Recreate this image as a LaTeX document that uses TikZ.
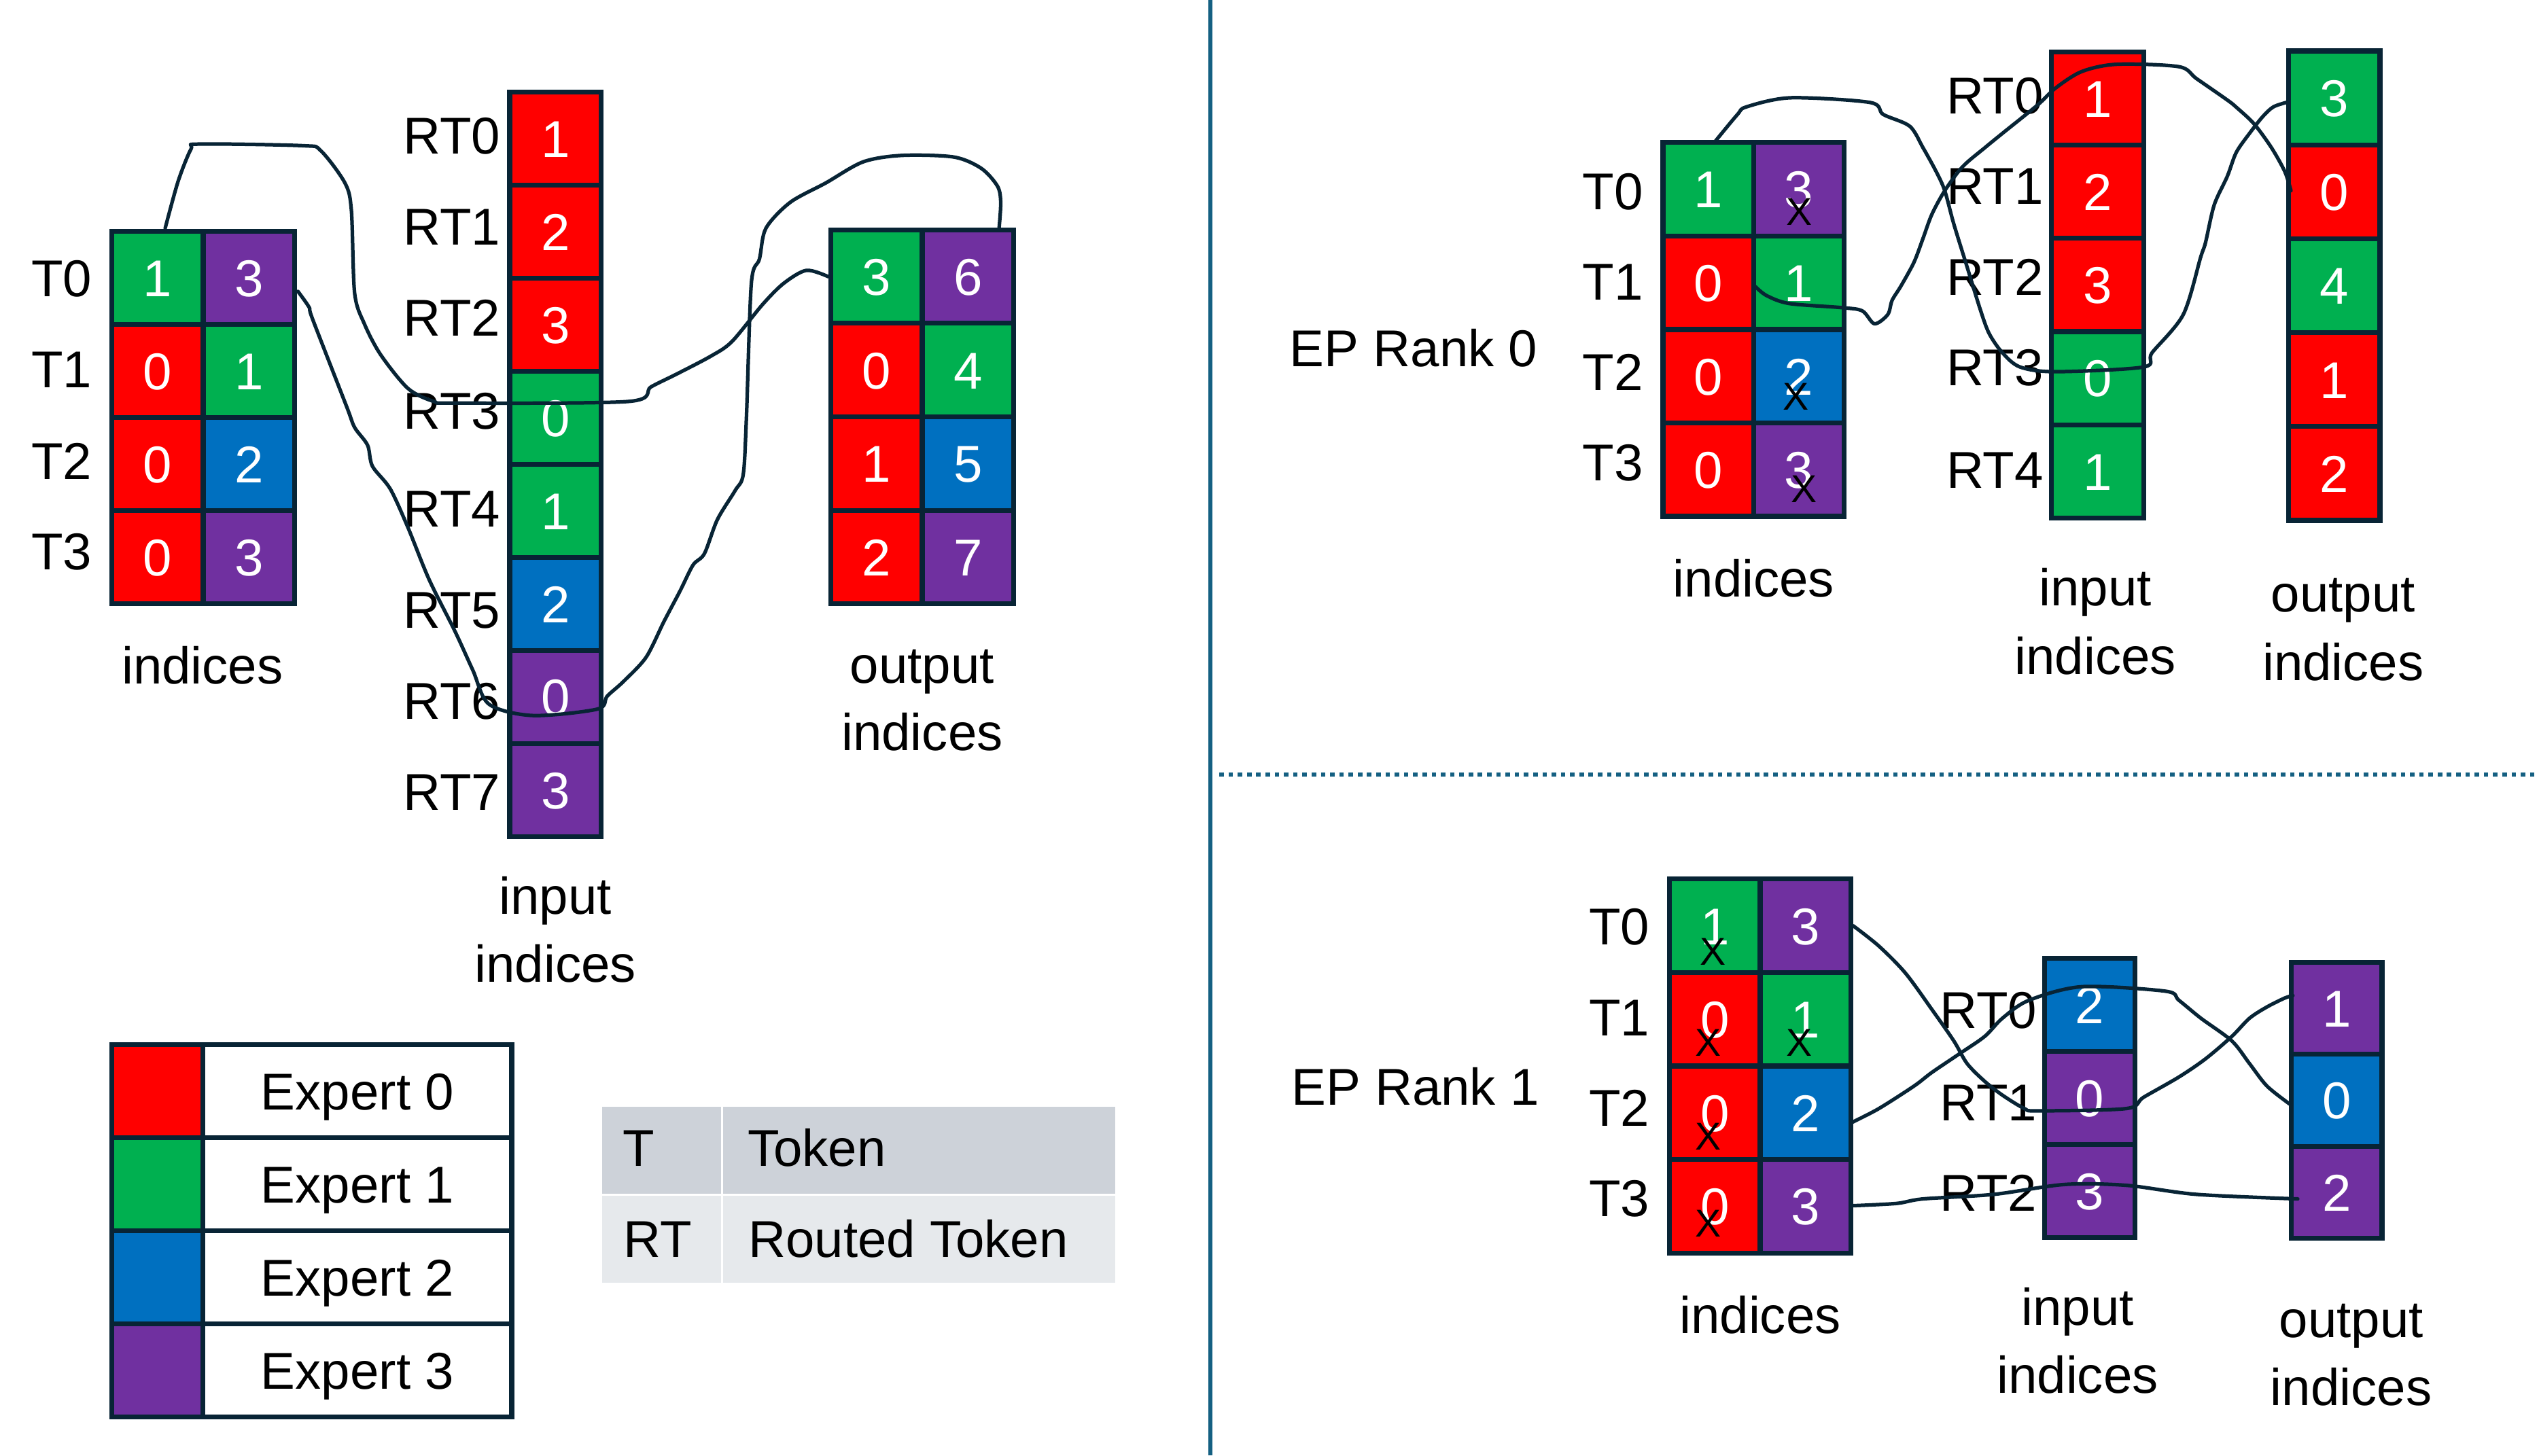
\documentclass[tikz,border=0pt]{standalone}
\usepackage{fontspec}
\setmainfont{Liberation Sans}
\definecolor{cR}{HTML}{FF0000}
\definecolor{cG}{HTML}{00B050}
\definecolor{cB}{HTML}{0070C0}
\definecolor{cP}{HTML}{7030A0}
\definecolor{bord}{HTML}{082435}
\definecolor{divc}{HTML}{156082}
\definecolor{tgA}{HTML}{CDD2D9}
\definecolor{tgB}{HTML}{E6E9EC}
\newcommand{\fsbig}{\fontsize{32}{38}\selectfont}
\newcommand{\fsx}{\fontsize{24}{28}\selectfont}
\begin{document}
\begin{tikzpicture}[x=1pt,y=-1pt,
  cell/.style={draw=bord, line width=3pt, inner sep=0pt, text=white, font=\fsbig, text height=23pt, text depth=0pt},
  sz/.style 2 args={minimum width=#1pt, minimum height=#2pt},
  eR/.style={fill=cR}, eG/.style={fill=cG}, eB/.style={fill=cB}, eP/.style={fill=cP},
  txt/.style={inner sep=0pt, font=\fsbig, text height=23pt, text depth=0pt},
  xmark/.style={inner sep=0pt, font=\fsx, text=black},
  wire/.style={draw=bord, line width=2.2pt, line cap=round, line join=round},
  tcell/.style={draw=white, line width=1.5pt, inner sep=0pt}
]
\useasboundingbox (0,0) rectangle (1568,899);

% ---------------- dividers ----------------
\coordinate (vtop) at (747.5,0);
\coordinate (vbot) at (747.5,899);
\coordinate (hl) at (753,478.4);
\coordinate (hr) at (1568,478.4);
\draw[divc, line width=2.8pt] (vtop) -- (vbot);
\draw[divc, line width=2.8pt, dash pattern=on 2.8pt off 2.9pt] (hl) -- (hr);

% ---------------- left: indices ----------------
\begin{scope}[every node/.append style={sz={56.5}{57.5}}]
\node[cell,eG] (li00) at (97.25,171.75) {1};
\node[cell,eP] (li01) at (153.75,171.75) {3};
\node[cell,eR] (li10) at (97.25,229.25) {0};
\node[cell,eG] (li11) at (153.75,229.25) {1};
\node[cell,eR] (li20) at (97.25,286.75) {0};
\node[cell,eB] (li21) at (153.75,286.75) {2};
\node[cell,eR] (li30) at (97.25,344.25) {0};
\node[cell,eP] (li31) at (153.75,344.25) {3};
\end{scope}
\node[txt] (lt0) at (38,171.8) {T0};
\node[txt] (lt1) at (38,228) {T1};
\node[txt] (lt2) at (38,284.5) {T2};
\node[txt] (lt3) at (38,340.5) {T3};
\node[txt] (lind) at (125,411) {indices};

% ---------------- left: input indices ----------------
\begin{scope}[every node/.append style={sz={56.5}{57.5}}]
\node[cell,eR] (ln0) at (343,85.75) {1};
\node[cell,eR] (ln1) at (343,143.25) {2};
\node[cell,eR] (ln2) at (343,200.75) {3};
\node[cell,eG] (ln3) at (343,258.25) {0};
\node[cell,eG] (ln4) at (343,315.75) {1};
\node[cell,eB] (ln5) at (343,373.25) {2};
\node[cell,eP] (ln6) at (343,430.75) {0};
\node[cell,eP] (ln7) at (343,488.25) {3};
\end{scope}
\node[txt] (lr0) at (279,83.5) {RT0};
\node[txt] (lr1) at (279,139.7) {RT1};
\node[txt] (lr2) at (279,196) {RT2};
\node[txt] (lr3) at (279,253.4) {RT3};
\node[txt] (lr4) at (279,314) {RT4};
\node[txt] (lr5) at (279,376.6) {RT5};
\node[txt] (lr6) at (279,432.8) {RT6};
\node[txt] (lr7) at (279,489) {RT7};
\node[txt] (linp1) at (343,553) {input};
\node[txt] (linp2) at (343,595) {indices};

% ---------------- left: output indices ----------------
\begin{scope}[every node/.append style={sz={56.5}{57.75}}]
\node[cell,eG] (lo00) at (541.25,170.9) {3};
\node[cell,eP] (lo01) at (597.75,170.9) {6};
\node[cell,eR] (lo10) at (541.25,228.6) {0};
\node[cell,eG] (lo11) at (597.75,228.6) {4};
\node[cell,eR] (lo20) at (541.25,286.4) {1};
\node[cell,eB] (lo21) at (597.75,286.4) {5};
\node[cell,eR] (lo30) at (541.25,344.1) {2};
\node[cell,eP] (lo31) at (597.75,344.1) {7};
\end{scope}
\node[txt] (lout1) at (569.5,410.5) {output};
\node[txt] (lout2) at (569.5,452) {indices};

% left wires
\draw[wire] plot[smooth, tension=0.5] coordinates {(102,141) (110,112) (118,92) (123,89) (187,90) (198,93) (213,113) (217,130) (219,181) (225,200) (235,219) (252,240) (268,248) (281,249) (388,248) (402,239) (418,231) (439,220) (452,211) (471,188) (484,175) (498,167) (lo00.west)};
\draw[wire] plot[smooth, tension=0.5] coordinates {(184,180) (191,190) (193,197) (214,251) (219,264) (227,275) (230,288) (241,302) (252,326) (265,358) (281,390) (292,414) (302,435) (329,442) (369,438) (375,430) (385,421) (399,406) (410,384) (420,365) (428,349) (435,342) (443,321) (454,303) (459,293) (461,257) (464,175) (469,160) (473,141) (488,125) (510,113) (533,100) (557,96) (589,97) (606,104) (616,115) (618,125) (617,141)};

% ---------------- legend ----------------
\begin{scope}[every node/.append style={sz={56.4}{57.5}}]
\node[cell,eR] (k0) at (97.2,674) {};
\node[cell,eG] (k1) at (97.2,731.5) {};
\node[cell,eB] (k2) at (97.2,789) {};
\node[cell,eP] (k3) at (97.2,846.5) {};
\end{scope}
\begin{scope}[every node/.append style={sz={190.6}{57.5}}]
\node[cell,fill=white,text=black] (k0t) at (220.7,674) {Expert 0};
\node[cell,fill=white,text=black] (k1t) at (220.7,731.5) {Expert 1};
\node[cell,fill=white,text=black] (k2t) at (220.7,789) {Expert 2};
\node[cell,fill=white,text=black] (k3t) at (220.7,846.5) {Expert 3};
\end{scope}

% ---------------- token table ----------------
\node[tcell, fill=tgA, sz={75}{55}] (t00) at (408.5,710.5) {};
\node[tcell, fill=tgA, sz={243.5}{55}] (t01) at (567.75,710.5) {};
\node[tcell, fill=tgB, sz={75}{55}] (t10) at (408.5,765.5) {};
\node[tcell, fill=tgB, sz={243.5}{55}] (t11) at (567.75,765.5) {};
\node[txt, anchor=west] (tT) at (384.5,709) {T};
\node[txt, anchor=west] (tTok) at (461.5,709) {Token};
\node[txt, anchor=west] (tRT) at (385,765) {RT};
\node[txt, anchor=west] (tRTok) at (462,765) {Routed Token};

% ---------------- EP Rank 0 ----------------
\node[txt] (ep0) at (873,215) {EP Rank 0};
\begin{scope}[every node/.append style={sz={56}{57.75}}]
\node[cell,eG] (ai00) at (1055,116.9) {1};
\node[cell,eP] (ai01) at (1111,116.9) {3};
\node[cell,eR] (ai10) at (1055,174.6) {0};
\node[cell,eG] (ai11) at (1111,174.6) {1};
\node[cell,eR] (ai20) at (1055,232.4) {0};
\node[cell,eB] (ai21) at (1111,232.4) {2};
\node[cell,eR] (ai30) at (1055,290.1) {0};
\node[cell,eP] (ai31) at (1111,290.1) {3};
\end{scope}
\node[xmark] (ax0) at (1111,131) {X};
\node[xmark] (ax2) at (1109,245) {X};
\node[xmark] (ax3) at (1114,302) {X};
\node[txt] (at0) at (996,117.8) {T0};
\node[txt] (at1) at (996,173.7) {T1};
\node[txt] (at2) at (996,229.6) {T2};
\node[txt] (at3) at (996,285.6) {T3};
\node[txt] (aind) at (1083,357) {indices};

\begin{scope}[every node/.append style={sz={57}{57.6}}]
\node[cell,eR] (an0) at (1295.5,60.8) {1};
\node[cell,eR] (an1) at (1295.5,118.4) {2};
\node[cell,eR] (an2) at (1295.5,176) {3};
\node[cell,eG] (an3) at (1295.5,233.6) {0};
\node[cell,eG] (an4) at (1295.5,291.2) {1};
\end{scope}
\node[txt] (ar0) at (1232,58.9) {RT0};
\node[txt] (ar1) at (1232,114.8) {RT1};
\node[txt] (ar2) at (1232,170.8) {RT2};
\node[txt] (ar3) at (1232,226.7) {RT3};
\node[txt] (ar4) at (1232,290) {RT4};
\node[txt] (ainp1) at (1294,362.5) {input};
\node[txt] (ainp2) at (1294,405) {indices};

\begin{scope}[every node/.append style={sz={56.5}{58}}]
\node[cell,eG] (ao0) at (1441.5,60.5) {3};
\node[cell,eR] (ao1) at (1441.5,118.5) {0};
\node[cell,eG] (ao2) at (1441.5,176.5) {4};
\node[cell,eR] (ao3) at (1441.5,234.5) {1};
\node[cell,eR] (ao4) at (1441.5,292.5) {2};
\end{scope}
\node[txt] (aout1) at (1447,366.5) {output};
\node[txt] (aout2) at (1447,409) {indices};

\draw[wire] plot[smooth, tension=0.5] coordinates {(1059.5,87) (1073,70.7) (1078.6,66) (1105.8,60.4) (1154.9,63.3) (1163,70.7) (1179.4,78) (1187.6,91.3) (1195.7,106) (1201,117.8) (1206.6,138.4) (1214.8,164.9) (1223,191.4) (1228.4,206) (1236.6,217.9) (1247.5,226.7) (1269.3,229.6) (1323.8,226.7) (1329,217.9) (1348.3,194.3) (1359,159) (1362,150) (1367.4,126.6) (1375.5,108.9) (1381,94.2) (1389.2,82.4) (1397.4,72) (1404,66) (1413,63)};
\draw[wire] plot[smooth, tension=0.5] coordinates {(1084,177) (1091,182.6) (1105,187.5) (1137,190) (1150,192) (1157.6,200) (1165.8,194.3) (1168.5,185.5) (1174,176.6) (1182,162) (1187.6,147.2) (1193,132.5) (1201,117.8) (1212,103) (1225.7,91.3) (1236.6,82.4) (1258.4,64.8) (1269.3,54.5) (1285.6,44.2) (1307.4,39.7) (1345.6,41.2) (1356.5,48.6) (1375.5,61.8) (1381,66.2) (1392,76.5) (1402.8,91.3) (1411,106) (1414.8,117.8)};

% ---------------- EP Rank 1 ----------------
\node[txt] (ep1) at (874,671) {EP Rank 1};
\begin{scope}[every node/.append style={sz={56}{57.75}}]
\node[cell,eG] (bi00) at (1059,571.9) {1};
\node[cell,eP] (bi01) at (1115,571.9) {3};
\node[cell,eR] (bi10) at (1059,629.6) {0};
\node[cell,eG] (bi11) at (1115,629.6) {1};
\node[cell,eR] (bi20) at (1059,687.4) {0};
\node[cell,eB] (bi21) at (1115,687.4) {2};
\node[cell,eR] (bi30) at (1059,745.1) {0};
\node[cell,eP] (bi31) at (1115,745.1) {3};
\end{scope}
\node[xmark] (bx0) at (1058,588) {X};
\node[xmark] (bx1) at (1055,644) {X};
\node[xmark] (bx1b) at (1111,644) {X};
\node[xmark] (bx2) at (1055,702) {X};
\node[xmark] (bx3) at (1055,756) {X};
\node[txt] (bt0) at (1000,571.9) {T0};
\node[txt] (bt1) at (1000,628.2) {T1};
\node[txt] (bt2) at (1000,684.3) {T2};
\node[txt] (bt3) at (1000,739.8) {T3};
\node[txt] (bind) at (1087,812) {indices};

\begin{scope}[every node/.append style={sz={56}{57.5}}]
\node[cell,eB] (bn0) at (1290.5,620.75) {2};
\node[cell,eP] (bn1) at (1290.5,678.25) {0};
\node[cell,eP] (bn2) at (1290.5,735.75) {3};
\end{scope}
\node[txt] (br0) at (1228,623.5) {RT0};
\node[txt] (br1) at (1228,680.6) {RT1};
\node[txt] (br2) at (1228,736.4) {RT2};
\node[txt] (binp1) at (1283,807) {input};
\node[txt] (binp2) at (1283,849) {indices};

\begin{scope}[every node/.append style={sz={56}{56.8}}]
\node[cell,eP] (bo0) at (1443,622.9) {1};
\node[cell,eB] (bo1) at (1443,679.7) {0};
\node[cell,eP] (bo2) at (1443,736.5) {2};
\end{scope}
\node[txt] (bout1) at (1452,814.5) {output};
\node[txt] (bout2) at (1452,856.5) {indices};

\draw[wire] plot[smooth, tension=0.5] coordinates {(bi01.east) (1160.3,584.4) (1176.7,601.1) (1193,623.5) (1206.6,643) (1214.8,657) (1225.7,668) (1236.6,676.5) (1250.2,684.8) (1258.4,686.2) (1313,684.8) (1323.8,677.8) (1345.6,665.3) (1362,654.1) (1378.3,640.2) (1389.2,629) (1400,622) (1411,616.5) (1416,615)};
\draw[wire] plot[smooth, tension=0.5] coordinates {(1144,693.2) (1160.3,684.8) (1182,670.9) (1193,662.5) (1209.4,651.4) (1225.7,640.2) (1236.6,629) (1253,617.9) (1285.7,609.5) (1337.4,612.3) (1345.6,617.9) (1359.2,629) (1378.3,643) (1389.2,657) (1400,670.9) (1414,682)};
\draw[wire] plot[smooth, tension=0.5] coordinates {(1144,744.8) (1171.2,743.4) (1187.6,740.6) (1231.2,737.8) (1274.8,731.7) (1313,732.2) (1356.5,737.8) (1419,740.6)};
\end{tikzpicture}
\end{document}
